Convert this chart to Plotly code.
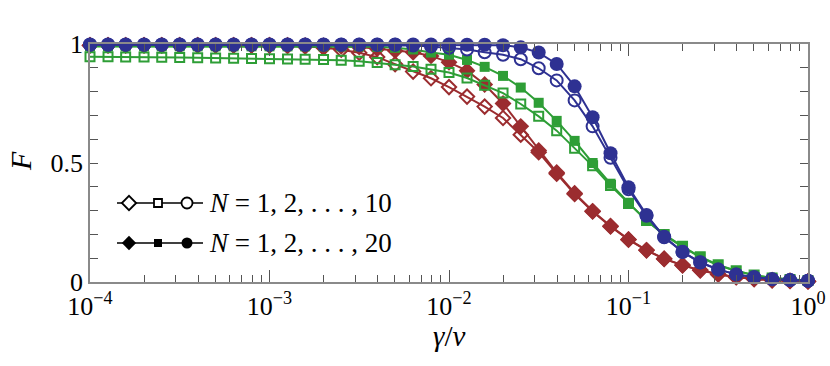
import plotly.graph_objects as go

# gamma/nu sample points (10 per decade)
gamma = [1.00e-4, 1.26e-4, 1.58e-4, 2.00e-4, 2.51e-4, 3.16e-4, 3.98e-4, 5.01e-4, 6.31e-4, 7.94e-4,
         1.00e-3, 1.26e-3, 1.58e-3, 2.00e-3, 2.51e-3, 3.16e-3, 3.98e-3, 5.01e-3, 6.31e-3, 7.94e-3,
         1.00e-2, 1.26e-2, 1.58e-2, 2.00e-2, 2.51e-2, 3.16e-2, 3.98e-2, 5.01e-2, 6.31e-2, 7.94e-2,
         1.00e-1, 1.26e-1, 1.58e-1, 2.00e-1, 2.51e-1, 3.16e-1, 3.98e-1, 5.01e-1, 6.31e-1, 7.94e-1,
         1.00]

red_open = [0.994, 0.994, 0.994, 0.994, 0.994, 0.994, 0.994, 0.994, 0.994, 0.994,
            0.994, 0.992, 0.990, 0.985, 0.976, 0.963, 0.945, 0.915, 0.884, 0.856,
            0.819, 0.779, 0.737, 0.689, 0.619, 0.545, 0.455, 0.370, 0.296, 0.233,
            0.178, 0.133, 0.097, 0.070, 0.049, 0.032, 0.020, 0.012, 0.007, 0.004,
            0.002]
red_filled = [0.995, 0.995, 0.995, 0.995, 0.995, 0.995, 0.995, 0.995, 0.995, 0.995,
              0.995, 0.995, 0.994, 0.993, 0.990, 0.987, 0.980, 0.972, 0.965, 0.950,
              0.923, 0.888, 0.830, 0.750, 0.654, 0.553, 0.460, 0.373, 0.298, 0.235,
              0.179, 0.134, 0.098, 0.071, 0.050, 0.033, 0.021, 0.013, 0.008, 0.005,
              0.003]
green_open = [0.946, 0.946, 0.945, 0.945, 0.944, 0.943, 0.942, 0.941, 0.940, 0.939,
              0.938, 0.937, 0.936, 0.935, 0.932, 0.928, 0.922, 0.913, 0.905, 0.894,
              0.880, 0.857, 0.827, 0.794, 0.748, 0.696, 0.636, 0.562, 0.488, 0.405,
              0.330, 0.258, 0.200, 0.150, 0.106, 0.072, 0.047, 0.029, 0.017, 0.010,
              0.006]
green_filled = [0.990, 0.990, 0.990, 0.990, 0.990, 0.990, 0.990, 0.990, 0.990, 0.990,
                0.990, 0.990, 0.990, 0.990, 0.990, 0.990, 0.988, 0.984, 0.977, 0.964,
                0.955, 0.933, 0.904, 0.866, 0.817, 0.753, 0.677, 0.593, 0.500, 0.413,
                0.333, 0.258, 0.198, 0.148, 0.104, 0.070, 0.046, 0.028, 0.017, 0.010,
                0.006]
blue_open = [0.997, 0.997, 0.997, 0.997, 0.997, 0.997, 0.997, 0.997, 0.997, 0.997,
             0.997, 0.997, 0.997, 0.997, 0.997, 0.997, 0.997, 0.997, 0.994, 0.990,
             0.984, 0.977, 0.965, 0.955, 0.936, 0.898, 0.847, 0.763, 0.654, 0.522,
             0.390, 0.278, 0.188, 0.126, 0.082, 0.052, 0.032, 0.020, 0.012, 0.008,
             0.005]
blue_filled = [0.998, 0.998, 0.998, 0.998, 0.998, 0.998, 0.998, 0.998, 0.998, 0.998,
               0.998, 0.998, 0.998, 0.998, 0.998, 0.998, 0.998, 0.998, 0.998, 0.998,
               0.998, 0.997, 0.997, 0.995, 0.986, 0.964, 0.916, 0.822, 0.692, 0.541,
               0.398, 0.282, 0.190, 0.127, 0.083, 0.053, 0.032, 0.020, 0.012, 0.008,
               0.005]

x_tickvals = [1e-4, 1e-3, 1e-2, 1e-1, 1]
x_ticktext = ["10<sup>−4</sup>", "10<sup>−3</sup>", "10<sup>−2</sup>", "10<sup>−1</sup>", "10<sup>0</sup>"]
x_minor_tickvals = [m * d for d in [1e-4, 1e-3, 1e-2, 1e-1] for m in range(2, 10)]
y_tickvals = [0, 0.5, 1]
y_ticktext = ["0", "0.5", "1"]
legend_labels = ["<i>N</i> = 1, 2, . . . , 10", "<i>N</i> = 1, 2, . . . , 20"]
x_title = "<i>γ</i>/<i>ν</i>"
y_title = "<i>F</i>"

RED = "#9b2c2f"
GREEN = "#2e9e36"
BLUE = "#2e3192"
SERIF = "Liberation Serif"

fig = go.Figure()

def add(y, color, symbol, filled, size):
    fig.add_trace(go.Scatter(
        x=gamma, y=y, mode="lines+markers", cliponaxis=False, showlegend=False,
        line=dict(color=color, width=2),
        marker=dict(symbol=symbol if filled else symbol + "-open", size=size,
                    color=color, line=dict(color=color, width=2 if not filled else 0)),
    ))

add(red_open, RED, "diamond", False, 11)
add(red_filled, RED, "diamond", True, 13)
add(green_open, GREEN, "square", False, 9)
add(green_filled, GREEN, "square", True, 10)
add(blue_open, BLUE, "circle", False, 12)
add(blue_filled, BLUE, "circle", True, 14)

# legend glyphs on a pixel-aligned overlay axis
leg_rows = [203, 243]
for row, filled in zip(leg_rows, [False, True]):
    fig.add_trace(go.Scatter(x=[117, 203], y=[row, row], mode="lines", xaxis="x2", yaxis="y2",
                             line=dict(color="black", width=1.6), showlegend=False, cliponaxis=False))
    for sx, sym, sz in [(129, "diamond", 11), (158, "square", 8), (187, "circle", 11)]:
        if not filled:
            fig.add_trace(go.Scatter(
                x=[sx], y=[row], mode="markers", xaxis="x2", yaxis="y2", showlegend=False, cliponaxis=False,
                marker=dict(symbol=sym, size=sz, color="white", line=dict(width=0))))
        fig.add_trace(go.Scatter(
            x=[sx], y=[row], mode="markers", xaxis="x2", yaxis="y2", showlegend=False, cliponaxis=False,
            marker=dict(symbol=sym if filled else sym + "-open", size=sz, color="black",
                        line=dict(color="black", width=1.8 if not filled else 0))))
for row, lab in zip(leg_rows, legend_labels):
    fig.add_annotation(x=207, y=row, xref="x2", yref="y2", text=lab, showarrow=False,
                       xanchor="left", yanchor="middle",
                       font=dict(family=SERIF, size=27, color="black"))

# axis titles
fig.add_annotation(x=0.5, y=-0.225, xref="paper", yref="paper", text=x_title, showarrow=False,
                   xanchor="center", yanchor="middle", font=dict(family=SERIF, size=29, color="black"))
fig.add_annotation(x=-0.097, y=0.51, xref="paper", yref="paper", text=y_title, showarrow=False,
                   textangle=-90, xanchor="center", yanchor="middle",
                   font=dict(family=SERIF, size=30, color="black"))

axis_common = dict(showline=True, linecolor="#8a8a8a", linewidth=1.5, mirror="ticks",
                   ticks="inside", tickcolor="#555555", tickwidth=1.2,
                   showgrid=False, zeroline=False, automargin=False,
                   tickfont=dict(family=SERIF, size=26, color="black"))

fig.update_layout(
    width=830, height=366,
    margin=dict(l=90, r=22, t=44, b=84),
    paper_bgcolor="white", plot_bgcolor="white",
    xaxis=dict(type="log", range=[-4, 0], tickvals=x_tickvals, ticktext=x_ticktext,
               ticklen=12,
               minor=dict(ticks="inside", ticklen=7, tickvals=x_minor_tickvals,
                          tickcolor="#555555", showgrid=False),
               **axis_common),
    yaxis=dict(range=[0, 1], tickvals=y_tickvals, ticktext=y_ticktext, ticklen=8,
               minor=dict(ticks="inside", ticklen=8, dtick=0.1, tick0=0, tickcolor="#555555", showgrid=False),
               **axis_common),
    xaxis2=dict(range=[90, 808], overlaying="x", visible=False, fixedrange=True),
    yaxis2=dict(range=[282, 44], overlaying="y", visible=False, fixedrange=True),
)

fig.write_html("out.html", config={"displayModeBar": False},
               post_script="document.body.style.margin='0';")
